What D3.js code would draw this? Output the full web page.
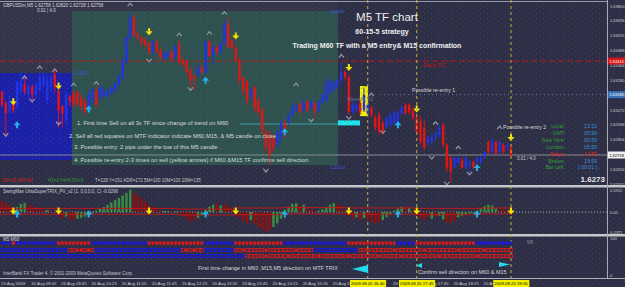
<!DOCTYPE html>
<html>
<head>
<meta charset="utf-8">
<script src="https://cdn.jsdelivr.net/npm/d3@7"></script>
<style>
  html, body { margin: 0; padding: 0; background: #2c2f45; }
  svg { display: block; font-family: "Liberation Sans", Arial, sans-serif; }
</style>
</head>
<body>
<svg id="chart" width="625" height="287"></svg>
<script>
// ---- GBPUSDm M5 bars ----
const barOpen = [
  1.6320,1.6312,1.6306,1.6313,1.6309,1.6321,1.6325,1.6318,1.6324,1.6318,
  1.6321,1.6325,1.6314,1.6323,1.6332,1.6321,1.6310,1.6300,1.6317,1.6319,
  1.6320,1.6316,1.6313,1.6309,1.6314,1.6321,1.6316,1.6317,1.6317,1.6319,
  1.6321,1.6325,1.6330,1.6341,1.6358,1.6372,1.6360,1.6358,1.6356,1.6354,
  1.6348,1.6355,1.6349,1.6344,1.6344,1.6348,1.6344,1.6353,1.6342,1.6341,
  1.6335,1.6331,1.6332,1.6337,1.6334,1.6355,1.6345,1.6351,1.6348,1.6354,
  1.6367,1.6356,1.6351,1.6342,1.6330,1.6327,1.6317,1.6323,1.6314,1.6307,
  1.6292,1.6290,1.6288,1.6283,1.6288,1.6298,1.6299,1.6304,1.6307,1.6311,
  1.6307,1.6313,1.6309,1.6312,1.6307,1.6312,1.6314,1.6319,1.6321,1.6323,
  1.6328,1.6334,1.6330,1.6306,1.6307,1.6312,1.6307,1.6305,1.6309,1.6302,
  1.6304,1.6298,1.6295,1.6297,1.6298,1.6298,1.6305,1.6311,1.6311,1.6307,
  1.6302,1.6299,1.6295,1.6284,1.6285,1.6288,1.6290,1.6297,1.6283,1.6274,
  1.6267,1.6270,1.6272,1.6267,1.6269,1.6271,1.6271,1.6271,1.6274,1.6285,
  1.6278,1.6285,1.6278,1.6283,1.6281,1.6281
];
const barHigh = [
  1.6321,1.6314,1.6317,1.6315,1.6328,1.6334,1.6330,1.6326,1.6325,1.6327,
  1.6332,1.6334,1.6331,1.6332,1.6335,1.6324,1.6311,1.6320,1.6318,1.6321,
  1.6321,1.6318,1.6315,1.6321,1.6323,1.6324,1.6325,1.6323,1.6322,1.6324,
  1.6327,1.6332,1.6344,1.6359,1.6376,1.6374,1.6362,1.6359,1.6358,1.6355,
  1.6356,1.6356,1.6351,1.6348,1.6349,1.6349,1.6353,1.6356,1.6344,1.6342,
  1.6337,1.6332,1.6339,1.6339,1.6356,1.6356,1.6353,1.6353,1.6355,1.6370,
  1.6372,1.6358,1.6352,1.6344,1.6331,1.6328,1.6323,1.6324,1.6316,1.6309,
  1.6293,1.6293,1.6290,1.6293,1.6300,1.6300,1.6305,1.6311,1.6312,1.6313,
  1.6314,1.6314,1.6314,1.6313,1.6314,1.6319,1.6328,1.6330,1.6328,1.6330,
  1.6341,1.6335,1.6332,1.6314,1.6312,1.6314,1.6323,1.6312,1.6310,1.6304,
  1.6306,1.6300,1.6303,1.6305,1.6307,1.6307,1.6311,1.6312,1.6312,1.6309,
  1.6304,1.6303,1.6300,1.6289,1.6290,1.6292,1.6297,1.6298,1.6284,1.6275,
  1.6275,1.6275,1.6274,1.6275,1.6272,1.6272,1.6275,1.6275,1.6279,1.6286,
  1.6288,1.6286,1.6286,1.6284,1.6284,1.6283
];
const barLow = [
  1.6309,1.6290,1.6304,1.6305,1.6308,1.6317,1.6318,1.6314,1.6314,1.6316,
  1.6320,1.6323,1.6311,1.6320,1.6320,1.6295,1.6295,1.6297,1.6310,1.6309,
  1.6310,1.6307,1.6304,1.6306,1.6311,1.6309,1.6314,1.6316,1.6316,1.6318,
  1.6320,1.6324,1.6328,1.6339,1.6356,1.6358,1.6356,1.6352,1.6351,1.6346,
  1.6346,1.6347,1.6342,1.6343,1.6343,1.6341,1.6342,1.6339,1.6338,1.6331,
  1.6324,1.6321,1.6330,1.6332,1.6332,1.6344,1.6339,1.6346,1.6346,1.6353,
  1.6350,1.6350,1.6341,1.6325,1.6318,1.6311,1.6314,1.6306,1.6303,1.6290,
  1.6278,1.6269,1.6278,1.6281,1.6286,1.6288,1.6297,1.6302,1.6306,1.6304,
  1.6306,1.6306,1.6307,1.6302,1.6306,1.6311,1.6313,1.6318,1.6320,1.6322,
  1.6327,1.6328,1.6304,1.6304,1.6306,1.6304,1.6306,1.6303,1.6302,1.6293,
  1.6290,1.6290,1.6294,1.6295,1.6297,1.6297,1.6304,1.6304,1.6304,1.6300,
  1.6290,1.6283,1.6279,1.6282,1.6283,1.6286,1.6288,1.6281,1.6264,1.6257,
  1.6266,1.6269,1.6266,1.6266,1.6262,1.6266,1.6269,1.6269,1.6273,1.6276,
  1.6276,1.6276,1.6276,1.6276,1.6279,1.6274
];
const barClose = [
  1.6311,1.6305,1.6314,1.6307,1.6327,1.6328,1.6320,1.6324,1.6318,1.6325,
  1.6330,1.6331,1.6328,1.6330,1.6323,1.6307,1.6305,1.6318,1.6313,1.6311,
  1.6311,1.6310,1.6306,1.6318,1.6321,1.6311,1.6323,1.6321,1.6320,1.6323,
  1.6326,1.6331,1.6342,1.6358,1.6372,1.6360,1.6358,1.6354,1.6353,1.6348,
  1.6355,1.6348,1.6344,1.6347,1.6348,1.6343,1.6352,1.6341,1.6339,1.6334,
  1.6328,1.6329,1.6337,1.6334,1.6355,1.6345,1.6351,1.6348,1.6354,1.6367,
  1.6351,1.6351,1.6342,1.6328,1.6321,1.6314,1.6321,1.6309,1.6306,1.6293,
  1.6281,1.6276,1.6281,1.6292,1.6298,1.6290,1.6304,1.6309,1.6311,1.6306,
  1.6313,1.6307,1.6313,1.6307,1.6313,1.6318,1.6327,1.6328,1.6327,1.6328,
  1.6334,1.6330,1.6306,1.6311,1.6311,1.6306,1.6318,1.6311,1.6304,1.6295,
  1.6292,1.6292,1.6302,1.6304,1.6306,1.6305,1.6309,1.6305,1.6306,1.6302,
  1.6292,1.6285,1.6281,1.6288,1.6288,1.6291,1.6295,1.6283,1.6267,1.6264,
  1.6274,1.6274,1.6267,1.6274,1.6271,1.6267,1.6274,1.6274,1.6278,1.6278,
  1.6286,1.6277,1.6285,1.6278,1.6283,1.62758
];

// price levels
const dailyR1 = 1.63415;
const weeklyS1 = 1.63180;
const bidPrice = 1.62758;
const priceTicks = [1.63800,1.63696,1.63592,1.63488,1.63384,1.63280,1.63176,1.63072,1.62968,1.62864,1.62760,1.62656,1.62552];

// signals
const sellArrowBar = [3, 15, 39, 62, 92, 110, 135];
const sellArrowPrice = [1.6313, 1.6324, 1.6362, 1.6359, 1.6337, 1.6308, 1.6288];
const buyArrowBar = [4, 23, 54, 75, 105, 126];
const buyArrowPrice = [1.6297, 1.6308, 1.6328, 1.6292, 1.6297, 1.6267];
const fracUpBar = [6, 10, 14, 19, 25, 34, 47, 55, 59, 78, 90, 98, 115, 121, 132];
const fracUpPrice = [1.6330,1.6337,1.6335,1.6325,1.6326,1.6381,1.6360,1.6361,1.6375,1.6325,1.6345,1.6318,1.6298,1.6281,1.6295];
const fracDnBar = [1, 8, 15, 39, 50, 70, 82, 92, 101, 114, 118, 124];
const fracDnPrice = [1.6290,1.6314,1.6298,1.6342,1.6322,1.6265,1.6300,1.6302,1.6292,1.6274,1.6256,1.6263];
const vLineBars = [97, 110, 135];
const vLineLabels = ["2009.08.20 16:40", "2009.08.20 17:45", "2009.08.20 19:05"];

// SwingMan TRIX histogram
const trixValue = [
  0.30,0.26,0.18,0.10,0.14,0.22,0.25,0.20,0.16,0.10,
  0.08,0.06,0.05,0.04,0.02,-0.08,-0.18,-0.12,-0.20,-0.22,
  -0.18,-0.15,-0.12,-0.08,-0.04,0.04,0.10,0.14,0.20,0.26,
  0.32,0.38,0.45,0.52,0.60,0.52,0.44,0.36,0.28,0.20,
  0.14,0.08,0.04,0.03,0.03,0.02,0.02,-0.04,-0.10,-0.18,
  -0.25,-0.22,-0.16,-0.08,0.06,0.14,0.20,0.24,0.18,0.22,
  0.16,0.08,-0.06,-0.15,-0.25,-0.30,-0.22,-0.32,-0.40,-0.46,
  -0.54,-0.48,-0.40,-0.30,-0.18,0.06,0.14,0.22,0.24,0.18,
  0.20,0.12,0.06,0.03,0.04,0.08,0.14,0.20,0.24,0.22,
  0.16,0.06,-0.10,-0.18,-0.14,-0.22,-0.16,-0.20,-0.26,-0.30,
  -0.28,-0.22,-0.14,-0.06,0.04,0.10,0.14,0.16,0.12,0.06,
  -0.08,-0.16,-0.22,-0.14,-0.18,-0.12,-0.10,-0.20,-0.28,-0.30,
  -0.24,-0.14,-0.10,-0.06,-0.04,-0.03,0.04,0.10,0.16,0.20,
  0.18,0.10,0.08,0.06,0.05,0.06
];
const trixColor =
  "rrrrgggrrrrrgrrrrgrrgggggggggggggggrrrrrrrrggrgrrrrrgggggrgrrrrrrrgrrrrrgggggggrgrrrgggggrrrrrgrgrrrrggggggrgrrrrrgrggrrrgggggggggggrrrrr";
const trixLineStart = [0, 47, 62, 75, 92, 110, 127];
const trixUpper = [0.10, 0.08, 0.11, 0.12, 0.11, 0.10, 0.11];
const trixLower = [-0.06, -0.08, -0.07, -0.05, -0.06, -0.07, -0.05];

// MTF TRIX direction rows: [firstBar, lastBar, direction]
const mtfM5 = [[0,2,"b"],[3,3,"r"],[4,14,"b"],[15,23,"r"],[24,38,"b"],[39,53,"r"],[54,61,"b"],[62,74,"r"],[75,91,"b"],[92,104,"r"],[105,109,"b"],[110,125,"r"],[126,135,"b"]];
const mtfM15 = [[0,17,"b"],[18,24,"r"],[25,47,"b"],[48,53,"r"],[54,61,"b"],[62,82,"r"],[83,94,"b"],[95,135,"r"]];
const mtfM60 = [[0,64,"b"],[65,135,"r"]];
const mtfM15Solid = [20, 21, 23, 49, 51, 64, 70, 78, 97, 104, 112, 121, 128];
const mtfM60Solid = [70, 76, 84, 92, 100, 106, 116, 126];

const timeLabelBars = [0, 8, 16, 24, 32, 40, 48, 56, 64, 72, 80, 88, 104, 112, 120, 128];
const timeLabels = ["20 Aug 2009","20 Aug 09:05","20 Aug 09:45","20 Aug 10:25","20 Aug 11:05","20 Aug 11:45","20 Aug 12:25","20 Aug 13:05","20 Aug 13:45","20 Aug 14:25","20 Aug 15:05","20 Aug 15:45","20 Aug 17:05","20 Aug 17:45","20 Aug 18:25","20 Aug 19:05"];

const clockNames = ["Local:", "GMT:", "New York:", "London:", "Tokyo:", "Broker:", "Bar Left:"];
const clockTimes = ["13:33", "05:59", "00:59", "05:59", "14:59", "19:59", "[ 00:01 ]"];

const notes = [
  "1.  First time Sell on all 3x TF  since change of trend on M60",
  "2.  Sell  all red squares  on MTF indicator indicate M60,M15,   & M5 candle on close",
  "3. Possible entry: 2 pips under the low of this M5 candle",
  "4. Possible re-entry 2-3 times on sell (yellow arrows) if M60   &M15 TF confirms sell direction"
];

// ---------------- drawing ----------------
const svg = d3.select("#chart");
const W = 625, H = 287, plotR = 607;
const mainBottom = 185, trixBottom = 234, axisTop = 278;

const x = d3.scaleLinear().domain([0, 135]).range([2, 511]);
const y = d3.scaleLinear().domain([1.6380, bidPrice]).range([6, 155]);
const yT = d3.scaleLinear().domain([-0.5371, 0.5952]).range([232, 190]);

const defs = svg.append("defs");
const pat = defs.append("pattern").attr("id", "dots")
  .attr("width", 7).attr("height", 5).attr("patternUnits", "userSpaceOnUse");
pat.append("rect").attr("x", 1).attr("y", 1).attr("width", 1).attr("height", 1).attr("fill", "#7a3a48");
pat.append("rect").attr("x", 4).attr("y", 3).attr("width", 1).attr("height", 1).attr("fill", "#5a6078");

svg.append("rect").attr("width", W).attr("height", H).attr("fill", "#2c2f45");

const main = svg.append("g");
// shaded zones
main.append("rect").attr("x", 0).attr("y", 0).attr("width", 338).attr("height", 73).attr("fill", "#34344a");
main.append("rect").attr("x", 72).attr("y", 11).attr("width", 266).attr("height", 154).attr("fill", "#2d524f");
main.append("rect").attr("x", 0).attr("y", 73).attr("width", 72).attr("height", 87).attr("fill", "#1b20a8");
svg.append("rect").attr("width", W).attr("height", H).attr("fill", "url(#dots)").attr("opacity", 0.45);

// frame lines
svg.append("line").attr("x1", 0).attr("x2", plotR).attr("y1", 1.5).attr("y2", 1.5).attr("stroke", "#9a9aa8");
[mainBottom, trixBottom].forEach(v => {
  svg.append("rect").attr("x", 0).attr("y", v).attr("width", W).attr("height", 2.5).attr("fill", "#c8c8cc");
});
svg.append("line").attr("x1", 0).attr("x2", W).attr("y1", axisTop + 0.5).attr("y2", axisTop + 0.5).attr("stroke", "#b0b0b8");
svg.append("line").attr("x1", plotR + 0.5).attr("x2", plotR + 0.5).attr("y1", 0).attr("y2", axisTop).attr("stroke", "#a8a8b0");

// price levels
main.append("line").attr("x1", 0).attr("x2", plotR).attr("y1", y(dailyR1)).attr("y2", y(dailyR1))
  .attr("stroke", "#c01818").attr("stroke-dasharray", "6,3");
main.append("line").attr("x1", 380).attr("x2", plotR).attr("y1", y(weeklyS1)).attr("y2", y(weeklyS1))
  .attr("stroke", "#6a78a8").attr("stroke-dasharray", "1,3");
main.append("line").attr("x1", 0).attr("x2", plotR).attr("y1", y(bidPrice)).attr("y2", y(bidPrice))
  .attr("stroke", "#8c8c90");
main.append("line").attr("x1", 240).attr("x2", 338).attr("y1", y(1.62975)).attr("y2", y(1.62975))
  .attr("stroke", "#3aa0a4").attr("stroke-width", 1.5).attr("opacity", 0.7);
main.append("rect").attr("x", 338).attr("y", y(1.6300)).attr("width", 22).attr("height", 5).attr("fill", "#1ee6ec");

// vertical time markers
svg.selectAll(".vline").data(vLineBars).enter().append("line")
  .attr("x1", d => x(d)).attr("x2", d => x(d)).attr("y1", 0).attr("y2", axisTop)
  .attr("stroke", "#c8b040").attr("stroke-dasharray", "3,3");

// highlighted candle
main.append("rect").attr("x", x(96) - 4).attr("y", y(1.6324)).attr("width", 8)
  .attr("height", y(1.6303) - y(1.6324)).attr("fill", "#f2f000");

// candles
const bars = d3.range(barOpen.length);
const bull = i => barClose[i] > barOpen[i];
main.selectAll(".wick").data(bars).enter().append("line")
  .attr("x1", i => x(i)).attr("x2", i => x(i))
  .attr("y1", i => y(barHigh[i])).attr("y2", i => y(barLow[i]))
  .attr("stroke", i => bull(i) ? "#1e34e6" : "#e41414").attr("stroke-width", 1);
main.selectAll(".body").data(bars).enter().append("rect")
  .attr("x", i => x(i) - 1.2).attr("width", 2.4)
  .attr("y", i => y(Math.max(barOpen[i], barClose[i])))
  .attr("height", i => Math.max(1, Math.abs(y(barOpen[i]) - y(barClose[i]))))
  .attr("fill", i => bull(i) ? "#1e34e6" : "#e41414");

// arrows
function downArrow(g, cx, cy, col) {
  g.append("path").attr("d", `M${cx-1},${cy-3.5}h2v3h2.5l-3.5,4l-3.5,-4h2.5z`).attr("fill", col);
}
function upArrow(g, cx, cy, col) {
  g.append("path").attr("d", `M${cx-1},${cy+3.5}h2v-3h2.5l-3.5,-4l-3.5,4h2.5z`).attr("fill", col);
}
sellArrowBar.forEach((b, k) => downArrow(main, x(b), y(sellArrowPrice[k]), "#f4e800"));
buyArrowBar.forEach((b, k) => upArrow(main, x(b), y(buyArrowPrice[k]), "#22b4ee"));
fracUpBar.forEach((b, k) => {
  const cx = x(b), cy = y(fracUpPrice[k]);
  main.append("path").attr("d", `M${cx-2.5},${cy+1.5}L${cx},${cy-1.5}L${cx+2.5},${cy+1.5}`)
    .attr("fill", "none").attr("stroke", "#9898a8").attr("stroke-width", 1.2);
});
fracDnBar.forEach((b, k) => {
  const cx = x(b), cy = y(fracDnPrice[k]);
  main.append("path").attr("d", `M${cx-2.5},${cy-1.5}L${cx},${cy+1.5}L${cx+2.5},${cy-1.5}`)
    .attr("fill", "none").attr("stroke", "#9898a8").attr("stroke-width", 1.2);
});

// text helper
function txt(g, tx, ty, s, size, col, opts = {}) {
  return g.append("text").attr("x", tx).attr("y", ty).text(s)
    .attr("font-size", size).attr("fill", col)
    .attr("font-weight", opts.bold ? "bold" : null)
    .attr("text-anchor", opts.anchor || "start");
}

// header
txt(svg, 3, 7, "GBPUSDm,M5  1.62758 1.62820 1.62728 1.62758", 4.5, "#d8d8d8");
txt(svg, 37, 11.5, "0.01 | 4.0", 4.5, "#d8d8d8");
txt(svg, 330, 13, "Lowest", 4.5, "#3a5ad0");
txt(svg, 73, 75, "1.6300", 4.5, "#3a5ad0");
txt(svg, 330, 169, "1.62xxx", 4.5, "#3a5ad0");

// titles
txt(svg, 387, 21, "M5 TF chart", 11.5, "#f0f0f0", { anchor: "middle" });
txt(svg, 382, 34, "60-15-5 strategy", 7, "#f0f0f0", { bold: true, anchor: "middle" });
txt(svg, 377, 48, "Trading M60 TF with a M5 entry& M15 confirmation", 7, "#f0f0f0", { bold: true, anchor: "middle" });
txt(svg, 423, 67, "Daily R1", 6, "#c01818");
txt(svg, 347, 101, "Weekly S1", 5.5, "#6e6e8e");
txt(svg, 412, 92, "Possible re-entry 1", 5.2, "#d8d8d8");
txt(svg, 503, 129, "Possible re-entry 2", 5.2, "#d8d8d8");

// notes block
const noteX = [77, 69, 74, 74], noteY = [125, 138, 149, 162];
notes.forEach((s, k) => txt(svg, noteX[k], noteY[k], s, 5.8, "#dcdcdc"));

// clock panel
clockNames.forEach((s, k) => {
  txt(svg, 565, 128 + k * 6.9, s, 5.2, k === 4 ? "#e02020" : "#2f9f2f", { anchor: "end" });
  txt(svg, 597, 128 + k * 6.9, clockTimes[k], 5.2, k === 4 ? "#e02020" : "#3a8ed6", { anchor: "end" });
});
txt(svg, 517, 160, "0.01 / 4.0", 4.5, "#d0d0d0");
txt(svg, 605, 182, "1.6273", 8, "#e8e8e8", { bold: true, anchor: "end" });

// status line
txt(svg, 2, 182, "DR=26  WR=89", 4.5, "#d02020");
txt(svg, 48, 182, "H1=0 H4=0 D1=0", 4.5, "#2f9f2f");
txt(svg, 95, 182, "T=126  Y=151  ADR=172  5M=100  10M=100  20M=135", 4.5, "#c8c8c8");

// price axis
const axisFont = 4;
priceTicks.forEach(p => txt(svg, 610, y(p) + 1.5, p.toFixed(5), axisFont, "#d0d0d0"));
function axisTag(p, fill, col) {
  svg.append("rect").attr("x", 608).attr("y", y(p) - 3.5).attr("width", 17).attr("height", 7).attr("fill", fill);
  txt(svg, 609.5, y(p) + 1.6, p.toFixed(5), axisFont, col);
}
axisTag(dailyR1, "#d81818", "#ffffff");
axisTag(weeklyS1, "#3a72b8", "#ffffff");
axisTag(bidPrice, "#f0f0f0", "#000000");

// ---- TRIX pane ----
const trix = svg.append("g");
txt(trix, 3, 192.5, "SwingMan UltraSuperTRIX_PV_v2 (1, 0,0,0,0, C) -0.0296", 4.5, "#d0d0d0");
trix.append("line").attr("x1", 0).attr("x2", plotR).attr("y1", yT(0)).attr("y2", yT(0))
  .attr("stroke", "#a8a8a8").attr("stroke-dasharray", "1,2");
trix.selectAll(".hist").data(bars).enter().append("rect")
  .attr("x", i => x(i) - 1.2).attr("width", 2.4)
  .attr("y", i => Math.min(yT(0), yT(trixValue[i])))
  .attr("height", i => Math.abs(yT(trixValue[i]) - yT(0)))
  .attr("fill", i => trixColor[i] === "g" ? "#3a8e44" : "#8e1010");
function stepLine(vals, col) {
  let d = "";
  trixLineStart.forEach((s, k) => {
    const e = k + 1 < trixLineStart.length ? trixLineStart[k + 1] : 136;
    d += `${k ? "L" : "M"}${x(s) - 2},${yT(vals[k])}L${x(e) - 2},${yT(vals[k])}`;
  });
  trix.append("path").attr("d", d).attr("fill", "none").attr("stroke", col).attr("stroke-width", 1);
}
stepLine(trixUpper, "#c01818");
stepLine(trixLower, "#c01818");
sellArrowBar.forEach(b => downArrow(trix, x(b), yT(0) - 1, "#f4e800"));
buyArrowBar.forEach(b => upArrow(trix, x(b), yT(0) + 2, "#22b4ee"));
txt(svg, 610, yT(0.5952) + 1.5, "0.5952", axisFont, "#d0d0d0");
txt(svg, 610, yT(0) + 1.5, "0.00", axisFont, "#d0d0d0");
txt(svg, 609, yT(-0.5371) + 1.5, "-0.5371", axisFont, "#d0d0d0");

// ---- MTF pane ----
const mtf = svg.append("g");
txt(mtf, 3, 241, "M5  M60", 4.5, "#d0d0d0");
txt(mtf, 527, 244, "M5", 4.5, "#8a8a98");
const rowTop = [241.5, 248.5, 254.5];
const rowColor = { b: "#1616e6", r: "#e41818" };
[mtfM5, mtfM15, mtfM60].forEach((runs, r) => {
  const solid = r === 1 ? mtfM15Solid : r === 2 ? mtfM60Solid : null;
  runs.forEach(([a, b, dir]) => {
    d3.range(a, b + 1).forEach(i => {
      const filled = r === 0 || solid.includes(i);
      mtf.append("rect").attr("x", x(i) - 1.4).attr("y", rowTop[r]).attr("width", 2.8).attr("height", 3.2)
        .attr("fill", filled ? rowColor[dir] : "none")
        .attr("stroke", filled ? "none" : rowColor[dir]).attr("stroke-width", 0.8);
    });
  });
});
txt(svg, 610, 240, "100", axisFont, "#d0d0d0");
txt(svg, 610, 277, "0", axisFont, "#d0d0d0");
txt(mtf, 198, 270, "First time change in M60 ,M15,M5 direction on MTF TRIX", 5.5, "#d8d8d8");
mtf.append("path").attr("d", "M352,269L368,265V273Z").attr("fill", "#22d8ea");
txt(mtf, 418, 274, "Confirm sell direction on M60 & M15", 5.5, "#d8d8d8");
mtf.append("path").attr("d", "M416,265.5L422,263V268Z").attr("fill", "#22d8ea");
mtf.append("path").attr("d", "M510,264.5L499,262V267Z").attr("fill", "#22d8ea");
txt(mtf, 3, 275, "InterBank FX Trader 4, \u00a9 2001-2009 MetaQuotes Software Corp.", 4.5, "#c8c8c8");

// ---- time axis ----
timeLabelBars.forEach((b, k) => txt(svg, x(b) - 1, 285, timeLabels[k], 4.3, "#d0d0d0"));
vLineBars.forEach((b, k) => {
  const t = txt(svg, x(b), 285, vLineLabels[k], 4.3, "#000000", { anchor: "middle" });
  const bb = t.node().getBBox();
  svg.insert("rect", () => t.node()).attr("x", bb.x - 1).attr("y", 280).attr("width", bb.width + 2)
    .attr("height", 7).attr("fill", "#f4f000");
});
</script>
</body>
</html>
